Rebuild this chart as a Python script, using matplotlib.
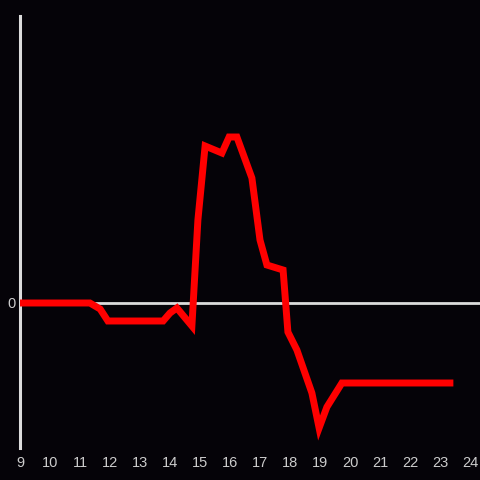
import matplotlib
matplotlib.use("Agg")
import matplotlib.pyplot as plt

# hour of day and value (relative to zero line)
hours = [9.0, 11.33, 11.67, 11.93, 13.77, 14.0, 14.23, 14.73, 14.93, 15.17,
         15.73, 15.97, 16.23, 16.73, 17.0, 17.23, 17.77, 17.93, 18.23, 18.73,
         18.97, 19.23, 19.73, 23.33]
values = [0, 0, -6, -18, -18, -10, -5, -23, 83, 157,
          150, 166, 166, 125, 63, 38, 33, -29, -47, -90,
          -125, -104, -80, -80]
xticks = list(range(9, 25))

bg = "#050308"
fg = "#dcdcdc"

plt.rcParams['font.family'] = ['Liberation Sans', 'DejaVu Sans']

fig = plt.figure(figsize=(4.8, 4.8), dpi=100, facecolor=bg)
ax = fig.add_axes([20 / 480, 32 / 480, 460 / 480, 432 / 480])
ax.set_facecolor(bg)

ax.axhline(0, color=fg, lw=2, zorder=1)
ax.plot(hours, values, color="#ff0000", lw=5, solid_joinstyle="miter", zorder=3)

ax.set_xlim(9, 9 + 460 / 30)
ax.set_ylim(-145, 287)

for s in ["top", "right", "bottom"]:
    ax.spines[s].set_visible(False)
ax.spines["left"].set_color(fg)
ax.spines["left"].set_linewidth(2.2)

ax.set_xticks(xticks)
ax.set_xticklabels([str(t) for t in xticks])
ax.set_yticks([0])
ax.set_yticklabels(["0"])
ax.tick_params(length=0, colors="#cccccc", labelsize=10.5)
ax.tick_params(axis="x", pad=6)
ax.tick_params(axis="y", pad=3)

fig.savefig("out.png", dpi=100, facecolor=bg)
